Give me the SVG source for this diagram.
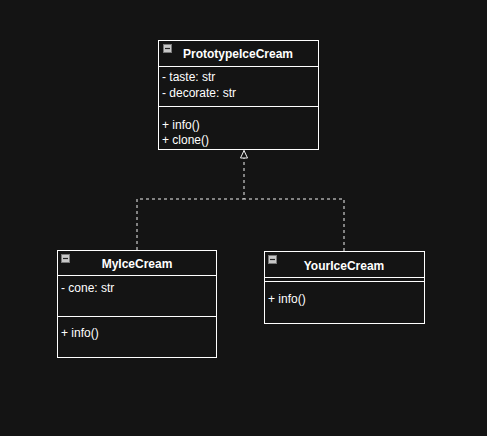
<svg xmlns="http://www.w3.org/2000/svg" width="487" height="436" viewBox="0 0 487 436">
<style>
.box{fill:#141414;stroke:#ffffff;stroke-width:1}
.div{stroke:#ffffff;stroke-width:1}
.title{font-family:"Liberation Sans",Arial,sans-serif;font-size:12px;font-weight:bold;fill:#ffffff;text-anchor:middle}
.item{font-family:"Liberation Sans",Arial,sans-serif;font-size:12px;fill:#ffffff}
.icon{fill:#c8c8c8;stroke:#7a7a7a;stroke-width:1}
.iconbar{stroke:#222222;stroke-width:1.2}
.conn{fill:none;stroke:#f0f0f0;stroke-width:1;stroke-dasharray:3,3}
</style>
<defs>
<marker id="tri" markerWidth="14" markerHeight="14" refX="8" refY="4" orient="auto" markerUnits="userSpaceOnUse">
<path d="M0.5,0.5 L8,4 L0.5,7.5 Z" fill="#141414" stroke="#f0f0f0" stroke-width="1"/>
</marker>
</defs>
<rect x="0" y="0" width="487" height="436" fill="#141414"/>
<g id="connectors">
<path class="conn" d="M137,250 L137,199 L244,199 L244,150.5" marker-end="url(#tri)"/>
<path class="conn" d="M344,251 L344,199 L244,199"/>
</g>
<g id="PrototypeIceCream">
<rect class="box" x="158.5" y="40.5" width="160" height="109"/>
<line class="div" x1="158.5" y1="66.5" x2="318.5" y2="66.5"/>
<line class="div" x1="158.5" y1="106.5" x2="318.5" y2="106.5"/>
<rect class="icon" x="163.5" y="44.5" width="8" height="8"/>
<line class="iconbar" x1="165" y1="48.5" x2="170" y2="48.5"/>
<text class="title" x="238" y="57.5">PrototypeIceCream</text>
<text class="item" x="162" y="81">- taste: str</text>
<text class="item" x="162" y="97">- decorate: str</text>
<text class="item" x="162" y="129">+ info()</text>
<text class="item" x="162" y="144">+ clone()</text>
</g>
<g id="MyIceCream">
<rect class="box" x="57.5" y="250.5" width="159" height="107"/>
<line class="div" x1="57.5" y1="275.5" x2="216.5" y2="275.5"/>
<line class="div" x1="57.5" y1="316.5" x2="216.5" y2="316.5"/>
<rect class="icon" x="61.5" y="254.5" width="8" height="8"/>
<line class="iconbar" x1="63" y1="258.5" x2="68" y2="258.5"/>
<text class="title" x="137" y="267.5">MyIceCream</text>
<text class="item" x="61" y="292">- cone: str</text>
<text class="item" x="61" y="337">+ info()</text>
</g>
<g id="YourIceCream">
<rect class="box" x="264.5" y="251.5" width="160" height="72"/>
<line class="div" x1="264.5" y1="277.5" x2="424.5" y2="277.5"/>
<line class="div" x1="264.5" y1="281.5" x2="424.5" y2="281.5"/>
<rect class="icon" x="268.5" y="255.5" width="8" height="8"/>
<line class="iconbar" x1="270" y1="259.5" x2="275" y2="259.5"/>
<text class="title" x="344" y="269.5">YourIceCream</text>
<text class="item" x="268" y="303">+ info()</text>
</g>
</svg>
